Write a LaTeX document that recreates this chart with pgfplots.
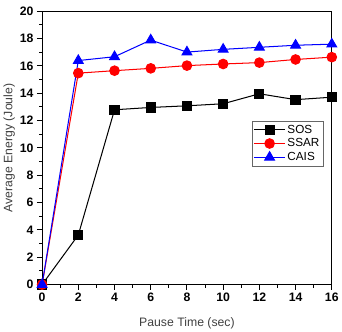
\documentclass[border=0pt]{standalone}
\usepackage{fontspec}
\setmainfont{Liberation Sans}
\usepackage{pgfplots}
\pgfplotsset{compat=1.18}

\begin{document}
\begin{tikzpicture}
\begin{axis}[
  scale only axis,
  width=284pt, height=268pt,
  xmin=0, xmax=16, ymin=0, ymax=20,
  xtick={0,2,...,16}, ytick={0,2,...,20},
  minor x tick num=1, minor y tick num=1,
  tick pos=left, tick align=outside,
  major tick length=5pt, minor tick length=3pt,
  axis line style={line width=1.1pt},
  every tick/.style={black, line width=1pt},
  ticklabel style={font=\bfseries\fontsize{12}{14}\selectfont},
  /pgf/number format/assume math mode=true,
  xlabel={Pause Time (sec)}, ylabel={Average Energy (Joule)},
  label style={font=\fontsize{12}{14}\selectfont, text=black!75},
  xlabel style={yshift=-8pt},
  ylabel style={yshift=-2pt},
  legend style={at={(0.972,0.60)}, anchor=north east, font=\fontsize{11.5}{13}\selectfont,
    draw=black!60, inner xsep=2pt, inner ysep=2pt, row sep=0pt},
  legend image code/.code={\draw[mark repeat=2,mark phase=2,#1] plot coordinates {(0pt,0pt) (15pt,0pt) (30pt,0pt)};},
  legend cell align=left,
  clip=false,
]
\addplot[black, line width=1pt, mark=square*, mark size=4.5pt] coordinates {
 (0,0) (2,3.63) (4,12.79) (6,12.96) (8,13.08) (10,13.23) (12,13.96) (14,13.53) (16,13.71)};
\addplot[red, line width=1pt, mark=*, mark size=4.7pt] coordinates {
 (0,0) (2,15.47) (4,15.65) (6,15.82) (8,16.02) (10,16.14) (12,16.24) (14,16.47) (16,16.64)};
\addplot[blue, line width=1pt, mark=triangle*, mark size=5.5pt] coordinates {
 (0,0) (2,16.39) (4,16.67) (6,17.89) (8,17.01) (10,17.21) (12,17.36) (14,17.51) (16,17.59)};
\legend{SOS, SSAR, CAIS}
\end{axis}
\path (current axis.north) ++(0,11pt);
\end{tikzpicture}
\end{document}
